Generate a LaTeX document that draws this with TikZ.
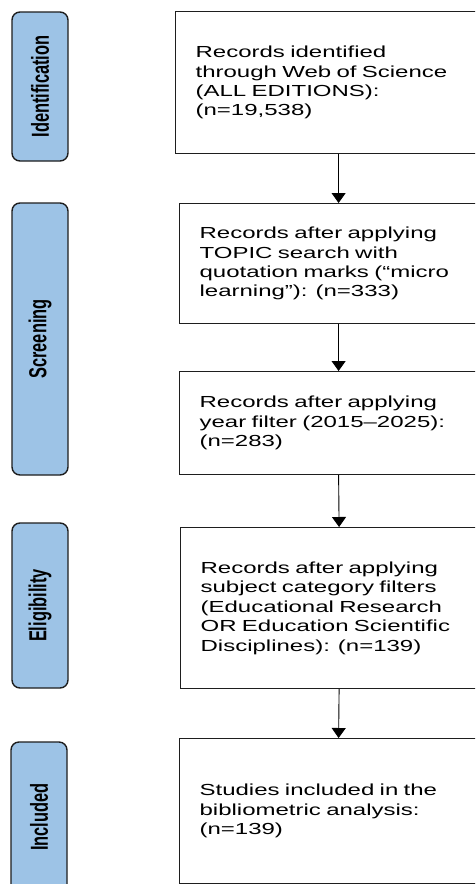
\documentclass[tikz,border=0pt]{standalone}
\usepackage{fontspec}
\usetikzlibrary{arrows.meta}
% wide body face and the tall, narrow face of the phase labels
\newfontfamily\bodyfont{Liberation Sans}[FakeStretch=1.5]
\newfontfamily\phasefont{Liberation Sans}[FakeStretch=0.667]
\definecolor{phaseblue}{RGB}{157,195,230}
\definecolor{edgegray}{RGB}{30,30,30}
\tikzset{
  recbox/.style={draw=edgegray, line width=1.2pt, fill=white, anchor=north west,
    align=left, inner xsep=20pt, inner ysep=0pt,
    font=\bodyfont\fontsize{16pt}{19.4pt}\selectfont},
  phase/.style={draw=edgegray, line width=1.4pt, fill=phaseblue, rounded corners=8pt,
    rotate=90, minimum height=56pt, inner sep=0pt,
    font=\phasefont\bfseries\fontsize{24.6pt}{26pt}\selectfont},
  flow/.style={draw=black, line width=0.9pt, -{Triangle[width=14pt,length=10pt]}},
}
\begin{document}
\begin{tikzpicture}[x=1pt,y=1pt]
\useasboundingbox (0,0) rectangle (475,-884);
\clip (0,0) rectangle (475,-884);
\fill[white] (0,0) rectangle (475,-884);

% phase labels on the left
\node[phase, minimum width=149pt] (pid)  at (40,-86.5) {Identification};
\node[phase, minimum width=272pt] (pscr) at (40,-339)  {Screening};
\node[phase, minimum width=165pt] (pel)  at (40,-605.5){Eligibility};
\node[phase, minimum width=150pt] (pinc) at (39,-817)  {Included};

% record boxes
\node[recbox, text width=286pt, minimum height=142pt] (b1) at (175,-11)
  {Records identified\\through Web of Science\\(ALL EDITIONS):\\(n=19,538)};
\node[recbox, text width=278pt, minimum height=120pt] (b2) at (179,-203)
  {Records after applying\\TOPIC search with\\quotation marks (“micro\\learning”): (n=333)};
\node[recbox, text width=278pt, minimum height=103pt] (b3) at (179,-371)
  {Records after applying\\year filter (2015–2025):\\(n=283)};
\node[recbox, text width=277pt, minimum height=161pt] (b4) at (180,-527)
  {Records after applying\\subject category filters\\(Educational Research\\OR Education Scientific\\Disciplines): (n=139)};
\node[recbox, text width=278pt, minimum height=145pt] (b5) at (179,-738)
  {Studies included in the\\bibliometric analysis:\\(n=139)};

% flow arrows
\draw[flow] (b1.south) -- (b2.north);
\draw[flow] (b2.south) -- (b3.north);
\draw[flow] (b3.south) -- (b4.north);
\draw[flow] (b4.south) -- (b5.north);
\end{tikzpicture}
\end{document}
